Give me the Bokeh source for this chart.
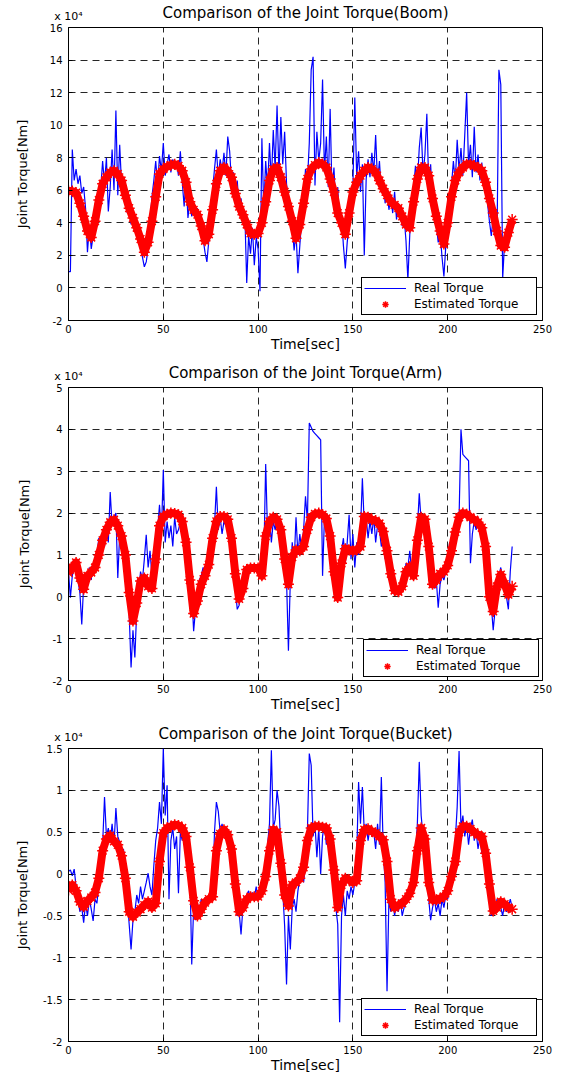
import numpy as np
from bokeh.plotting import figure
from bokeh.layouts import column
from bokeh.models import (Range1d, FixedTicker, Legend, LegendItem, LinearAxis)
from bokeh.embed import file_html
from bokeh.resources import INLINE

# ---------------- data (values in units of 1e4 Nm) ----------------
TITLES = ["Comparison of the Joint Torque(Boom)",
          "Comparison of the Joint Torque(Arm)",
          "Comparison of the Joint Torque(Bucket)"]
X_LABEL = "Time[sec]"
Y_LABEL = "Joint Torque[Nm]"
SERIES_NAMES = ["Real Torque", "Estimated Torque"]
SCALE_TEXT = "x 10\u2074"
X_TICKS = [0, 50, 100, 150, 200, 250]
X_TICK_LABELS = ["0", "50", "100", "150", "200", "250"]
REAL_DT = 1.0   # sampling step of the measured torque [s]
EST_DT = 2.0    # sampling step of the estimated torque [s]

boom_real = [
    1.0, 1.0, 8.5, 6.6, 7.3, 6.4, 6.9, 5.8, 6.2, 4.9,
    2.2, 3.8, 2.4, 3.2, 4.3, 4.9, 5.6, 6.1, 7.8, 6.4,
    8.0, 4.7, 6.2, 8.5, 6.0, 10.9, 5.7, 8.8, 6.3, 5.5,
    6.4, 4.6, 5.1, 3.9, 4.5, 3.6, 4.0, 3.1, 2.4, 1.9,
    1.3, 1.6, 2.4, 3.9, 5.6, 6.6, 7.8, 6.3, 8.1, 7.2,
    8.9, 6.9, 7.6, 8.2, 7.1, 7.9, 7.3, 7.7, 6.9, 8.4,
    6.5, 5.0, 6.8, 4.3, 5.3, 4.4, 5.1, 4.6, 4.9, 4.0,
    3.9, 3.0, 2.2, 1.6, 2.9, 4.4, 6.0, 7.3, 8.5, 6.8,
    7.9, 7.2, 8.3, 6.9, 9.3, 8.4, 6.4, 7.1, 5.8, 6.6,
    4.9, 5.5, 4.2, 4.6, 0.3, 3.2, 2.1, 3.7, 1.4, 3.1,
    2.4, -0.2, 9.2, 4.8, 7.8, 6.1, 8.9, 6.5, 9.7, 7.3,
    11.2, 6.9, 10.5, 7.6, 9.6, 6.4, 5.3, 4.7, 3.8, 2.3,
    3.4, 0.9, 2.6, 4.2, 5.5, 7.3, 6.5, 8.9, 13.4, 14.2,
    6.3, 9.6, 7.8, 8.9, 12.8, 7.1, 9.3, 6.2, 11.0, 5.8,
    7.4, 4.9, 6.2, 3.8, 4.4, 2.6, 1.2, 2.8, 3.9, 5.6,
    6.2, 11.7, 6.8, 8.4, 5.9, 7.6, 2.0, 6.7, 7.9, 6.8,
    8.3, 7.1, 9.4, 6.5, 7.8, 5.9, 6.6, 5.2, 6.0, 4.8,
    5.6, 4.6, 5.9, 4.2, 5.1, 4.5, 3.8, 4.4, 2.9, 0.5,
    3.3, 4.7, 6.1, 7.5, 6.4, 8.6, 9.85, 7.0, 8.2, 10.7,
    6.3, 7.6, 5.2, 4.8, 3.9, 2.8, 3.4, 1.9, 0.7, 2.6,
    3.5, 4.9, 6.3, 7.8, 6.5, 9.1, 7.2, 8.6, 6.9, 9.4,
    12.0, 7.5, 8.8, 6.8, 9.9, 7.1, 8.2, 6.6, 7.7, 6.1,
    6.9, 5.2, 4.1, 3.2, 4.4, 3.3, 2.9, 13.4, 12.5, 0.6,
    2.8, 3.1, 3.5, 3.8, 4.1,
]
boom_est = [
    5.95, 5.95, 5.85, 5.2, 4.4, 3.5, 3.1, 4.1, 5.4, 6.4,
    6.8, 7.1, 7.2, 7.0, 6.6, 5.7, 4.9, 4.3, 3.7, 3.0,
    2.2, 2.8, 4.1, 5.6, 7.0, 7.3, 7.45, 7.55, 7.6, 7.5,
    7.2, 6.5, 5.3, 4.8, 4.5, 3.8, 2.9, 3.3, 4.8, 6.4,
    7.2, 7.4, 7.2, 6.8, 5.8, 5.0, 4.5, 3.9, 3.35, 3.3,
    3.35, 4.0, 5.3, 6.6, 7.3, 7.4, 6.8, 5.9, 5.0, 4.1,
    3.05, 3.9, 5.2, 6.7, 7.3, 7.55, 7.7, 7.6, 7.4, 6.7,
    5.9, 4.6, 4.0, 3.3, 4.6, 5.9, 6.5, 6.9, 7.2, 7.4,
    7.3, 7.1, 6.6, 6.1, 5.7, 5.3, 5.1, 4.9, 4.4, 3.9,
    3.7, 5.3, 6.7, 7.4, 7.4, 6.9, 5.5, 4.4, 3.5, 2.7,
    4.0, 5.6, 6.6, 7.1, 7.4, 7.6, 7.6, 7.5, 7.4, 7.2,
    6.5, 5.5, 4.6, 3.5, 2.6, 2.5, 3.4, 4.2,
]

arm_real = [
    0.6, -0.02, 0.5, 0.7, 0.8, 0.4, 0.1, -0.66, 0.3, 0.2,
    0.5, 0.7, 0.4, 0.8, 0.6, 1.0, 1.4, 1.1, 1.45, 1.2,
    1.6, 1.3, 2.5, 1.7, 1.9, 2.0, 0.45, 1.5, 1.2, 0.9,
    0.7, 0.2, -0.4, -1.69, -0.8, -1.45, -0.3, 0.1, 0.6, 0.4,
    0.9, 1.48, 0.7, 1.1, 0.5, 0.9, 1.3, 1.6, 2.2, 1.5,
    3.03, 1.3, 1.8, 1.4, 1.7, 1.2, 1.9, 1.5, 1.6, 1.8,
    1.7, 1.2, 0.9, 0.5, 0.3, 0.1, -0.82, -0.3, 0.0, 0.4,
    0.5, 0.7, 0.6, 0.9, 1.0, 0.8, 1.2, 1.7, 2.63, 1.6,
    1.9, 1.5, 1.8, 1.7, 1.9, 1.6, 1.2, 0.7, 0.2, -0.3,
    -0.2, 0.1, 0.4, 0.6, 0.7, 0.72, 0.68, 0.7, 0.66, 0.7,
    0.7, 0.68, 0.5, 0.9, 3.17, 1.5, 1.9, 1.3, 1.8, 1.6,
    1.9, 1.5, 1.7, 1.2, 0.6, 0.4, -1.29, 0.4, 1.3, 0.8,
    1.9, 1.0, 1.5, 1.1, 1.6, 2.4, 1.8, 4.15, 4.05, 3.95,
    3.9, 3.85, 3.8, 3.75, 0.5, 1.9, 1.6, 1.2, 1.0, 0.7,
    0.4, 0.1, -0.1, 0.5, 1.1, 1.4, 0.8, 1.3, 1.96, 0.9,
    1.5, 0.7, 1.3, 1.0, 1.6, 2.83, 1.7, 1.9, 1.4, 1.8,
    1.5, 1.9, 1.3, 1.7, 1.6, 1.2, 1.4, 0.9, 1.1, 0.6,
    0.3, 0.1, 0.05, 0.2, 0.1, 0.3, 0.5, 0.4, 0.8, 0.7,
    1.1, 0.6, 0.9, 1.3, 1.6, 2.47, 1.8, 1.9, 1.5, 1.7,
    1.0, 0.5, 0.3, 0.2, 0.4, -0.26, 0.3, 0.5, 0.4, 0.6,
    0.8, 1.3, 1.0, 1.5, 1.3, 1.7, 1.9, 4.0, 3.4, 3.35,
    3.3, 3.25, 0.8, 1.5, 1.8, 1.6, 1.9, 1.5, 1.7, 1.4,
    1.2, 0.8, 0.3, -0.2, -0.8, -0.3, 0.2, 0.5, 0.7, 0.4,
    0.3, 0.0, -0.3, 0.6, 1.2,
]
arm_est = [
    0.57, 0.7, 0.82, 0.45, 0.18, 0.5, 0.58, 0.7, 1.0, 1.35,
    1.6, 1.78, 1.84, 1.7, 1.45, 1.0, 0.1, -0.58, -0.15, 0.38,
    0.45, 0.25, 0.2, 0.9, 1.7, 1.92, 1.97, 2.0, 1.99, 1.96,
    1.8, 1.3, 0.4, -0.4, -0.1, 0.3, 0.5, 0.77, 1.4, 1.8,
    1.92, 1.92, 1.85, 1.4, 0.55, -0.05, 0.2, 0.65, 0.69, 0.69,
    0.69, 0.5, 1.45, 1.8, 1.9, 1.85, 1.6, 0.9, 0.3, 0.95,
    1.12, 1.1, 1.2, 1.6, 1.9, 1.98, 2.0, 1.96, 1.87, 1.45,
    0.6, -0.02, 0.8, 1.15, 1.12, 1.09, 1.12, 1.2, 1.92, 1.9,
    1.84, 1.82, 1.75, 1.56, 1.1, 0.55, 0.15, 0.12, 0.25, 0.6,
    0.72, 0.5, 1.35, 1.9, 1.85, 1.2, 0.3, 0.4, 0.55, 0.6,
    0.75, 1.1, 1.55, 1.9, 2.0, 1.97, 1.9, 1.84, 1.78, 1.65,
    1.2, 0.0, -0.35, 0.25, 0.53, 0.3, 0.05, 0.25,
]

bucket_real = [
    0.03, 0.05, -0.02, 0.06, -0.15, -0.3, -0.45, -0.4, -0.58, -0.35,
    -0.5, -0.3, -0.42, -0.56, -0.3, -0.35, -0.1, 0.1, 0.35, 0.92,
    0.45, 0.55, 0.4, 0.6, 0.35, 0.79, 0.45, 0.38, 0.25, 0.3,
    0.05, -0.3, -0.6, -0.9, -0.55, -0.45, -0.25, -0.35, -0.15, -0.3,
    -0.2, -0.1, 0.01, -0.15, -0.25, 0.1, 0.4, 0.55, 0.86, 0.6,
    1.5, 0.7, 1.06, -0.3, 0.4, 0.55, 0.3, 0.45, -0.23, 0.5,
    0.4, 0.55, 0.35, 0.45, 0.1, -1.08, -0.4, -0.55, -0.35, -0.45,
    -0.3, -0.4, -0.28, -0.35, -0.25, -0.3, -0.2, 0.5, 0.86, 0.75,
    0.5, 0.6, 0.45, 0.55, 0.4, 0.5, 0.2, 0.0, -0.3, -0.5,
    -0.45, -0.72, -0.4, -0.3, -0.25, -0.2, -0.3, -0.22, -0.28, -0.15,
    -0.3, -0.25, -0.2, -0.1, 0.1, 0.35, 0.6, 1.48, 0.55, 0.65,
    1.0, 0.81, 0.3, -0.2, -0.62, -1.32, -0.5, -0.9, -0.4, -0.3,
    -0.45, -0.2, -0.05, 0.05, -0.1, 0.1, 0.5, 1.44, 1.3, 0.45,
    0.6, 0.2, 0.55, 0.0, 0.45, 0.6, 0.35, 0.5, 0.3, 0.2,
    -0.1, -0.4, -0.6, -1.77, -0.5, -0.25, -0.5, -0.2, -0.3, -0.15,
    -0.25, -0.1, 0.2, 1.1, 0.6, 1.04, 0.5, 0.6, 0.4, 0.55,
    0.45, 0.5, 0.3, 0.6, 0.35, 1.16, 0.3, -0.1, -1.4, -0.3,
    -0.45, -0.3, -0.5, -0.35, -0.45, -0.3, -0.5, -0.4, -0.35, -0.25,
    -0.3, -0.15, -0.1, 0.2, 0.6, 1.34, 0.7, 0.45, 0.3, 0.0,
    -0.3, -0.55, -0.4, -0.3, -0.45, -0.35, -0.5, -0.3, -0.4, -0.25,
    -0.3, -0.15, 0.0, 0.2, 0.4, 0.8, 1.47, 0.55, 0.7, 0.45,
    0.6, 0.35, 0.55, 0.65, 0.4, 0.5, 0.3, 0.45, 0.25, 0.35,
    0.1, -0.15, -0.3, -0.5, -0.4, -0.45, -0.3, -0.35, -0.4, -0.5,
    -0.35, -0.45, -0.4, -0.3, -0.4,
]
bucket_est = [
    -0.19, -0.13, -0.2, -0.33, -0.39, -0.32, -0.28, -0.22, -0.05, 0.28,
    0.42, 0.46, 0.39, 0.35, 0.22, -0.05, -0.45, -0.51, -0.46, -0.42,
    -0.37, -0.33, -0.4, -0.35, 0.15, 0.49, 0.55, 0.57, 0.59, 0.58,
    0.55, 0.45, 0.08, -0.32, -0.5, -0.42, -0.34, -0.3, -0.27, 0.28,
    0.48, 0.53, 0.47, 0.3, -0.12, -0.45, -0.4, -0.3, -0.27, -0.27,
    -0.27, -0.2, -0.03, 0.28, 0.53, 0.5, 0.13, -0.25, -0.38, -0.13,
    -0.1, -0.05, 0.08, 0.4, 0.55, 0.57, 0.57, 0.56, 0.55, 0.42,
    0.05, -0.4, -0.13, -0.05, -0.07, -0.1, -0.08, 0.4, 0.53, 0.54,
    0.51, 0.49, 0.45, 0.41, 0.15, -0.3, -0.4, -0.37, -0.35, -0.3,
    -0.23, -0.1, 0.28, 0.55, 0.42, -0.1, -0.31, -0.31, -0.29, -0.27,
    -0.2, -0.03, 0.15, 0.5, 0.57, 0.57, 0.54, 0.5, 0.47, 0.45,
    0.25, -0.12, -0.44, -0.4, -0.33, -0.36, -0.4, -0.42,
]

boom_y_ticks = [-2, 0, 2, 4, 6, 8, 10, 12, 14, 16]
boom_y_labels = ["-2", "0", "2", "4", "6", "8", "10", "12", "14", "16"]
arm_y_ticks = [-2, -1, 0, 1, 2, 3, 4, 5]
arm_y_labels = ["-2", "-1", "0", "1", "2", "3", "4", "5"]
bucket_y_ticks = [-2, -1.5, -1, -0.5, 0, 0.5, 1, 1.5]
bucket_y_labels = ["-2", "-1.5", "-1", "-0.5", "0", "0.5", "1", "1.5"]

# ---------------- styling ----------------
FONT = "DejaVu Sans"
W = 567


def panel(title, real, est, yticks, ylabels, height, bl, br, bt, bb,
          title_drop, ylab_standoff, legend_margin):
    y0, y1 = yticks[0], yticks[-1]
    p = figure(width=W, height=height, output_backend="svg", title=None,
               toolbar_location=None, x_range=Range1d(X_TICKS[0], X_TICKS[-1]),
               y_range=Range1d(y0, y1), min_border_left=bl,
               min_border_right=br, min_border_top=bt, min_border_bottom=bb,
               background_fill_color="white", border_fill_color="white")
    p.outline_line_color = "black"
    p.outline_line_width = 1
    p.outline_line_alpha = 1.0

    for ax in (p.xaxis[0], p.yaxis[0]):
        ax.axis_line_color = "black"
        ax.major_tick_line_color = "black"
        ax.major_tick_in = 4
        ax.major_tick_out = 0
        ax.minor_tick_line_color = None
        ax.major_label_text_font = FONT
        ax.major_label_text_font_size = "10px"
        ax.major_label_text_color = "black"
        ax.axis_label_text_font = FONT
        ax.axis_label_text_font_style = "normal"
        ax.axis_label_text_color = "black"
    p.xaxis.ticker = FixedTicker(ticks=X_TICKS)
    p.xaxis.major_label_overrides = dict(zip(X_TICKS, X_TICK_LABELS))
    p.xaxis.major_label_standoff = 4
    p.xaxis.axis_label = X_LABEL
    p.xaxis.axis_label_text_font_size = "14px"
    p.xaxis.axis_label_standoff = 0
    p.yaxis.ticker = FixedTicker(ticks=yticks)
    p.yaxis.major_label_overrides = dict(zip(yticks, ylabels))
    p.yaxis.major_label_standoff = 6
    p.yaxis.axis_label = Y_LABEL
    p.yaxis.axis_label_text_font_size = "13px"
    p.yaxis.axis_label_standoff = ylab_standoff

    # top axis: carries the "x 10^4" exponent note (tick label) and the title
    top = LinearAxis(ticker=FixedTicker(ticks=[X_TICKS[0]]),
                     major_label_overrides={X_TICKS[0]: SCALE_TEXT},
                     axis_line_color=None, major_tick_line_color=None,
                     minor_tick_line_color=None, major_label_standoff=-1,
                     major_label_text_align="left",
                     major_label_text_font=FONT,
                     major_label_text_font_size="11px",
                     major_label_text_color="black",
                     axis_label=title, axis_label_text_font=FONT,
                     axis_label_text_font_size="15px",
                     axis_label_text_font_style="normal",
                     axis_label_text_color="black",
                     axis_label_standoff=title_drop)
    p.add_layout(top, "above")

    for g, tk in ((p.xgrid[0], X_TICKS), (p.ygrid[0], yticks)):
        g.ticker = FixedTicker(ticks=tk)
        g.grid_line_color = "black"
        g.grid_line_alpha = 0.85
        g.grid_line_dash = "7 5"
        g.grid_line_width = 1

    t_real = np.arange(len(real)) * REAL_DT
    t_est = np.arange(len(est)) * EST_DT
    r_real = p.line(t_real, real, line_color="#0000ff", line_width=1.2)
    p.line(t_est, est, line_color="#ff0000", line_width=8, line_join="round")
    r_est = p.scatter(t_est, est, marker="asterisk", size=11,
                      line_color="#ff0000", line_width=1.5)

    legend = Legend(items=[LegendItem(label=SERIES_NAMES[0], renderers=[r_real]),
                           LegendItem(label=SERIES_NAMES[1], renderers=[r_est])],
                    location="bottom_right", margin=legend_margin,
                    padding=2, spacing=0, glyph_width=42, glyph_height=16,
                    label_height=16, label_width=120, label_standoff=8,
                    label_text_font=FONT, label_text_font_size="12px",
                    label_text_color="black", border_line_color="black",
                    border_line_width=1, border_line_alpha=1.0,
                    background_fill_color="white", background_fill_alpha=1.0)
    p.add_layout(legend)
    return p


p1 = panel(TITLES[0], boom_real, boom_est, boom_y_ticks, boom_y_labels,
           360, 64, 25, 27, 40, -15, 17, 5)
p2 = panel(TITLES[1], arm_real, arm_est, arm_y_ticks, arm_y_labels,
           361, 61, 25, 26, 41, -15, 18, 3)
p3 = panel(TITLES[2], bucket_real, bucket_est, bucket_y_ticks, bucket_y_labels,
           356, 68, 19, 25, 36, -15, 10, 5)

layout = column(p1, p2, p3)
open("out.html", "w").write(file_html(layout, INLINE, title="Joint Torque"))
